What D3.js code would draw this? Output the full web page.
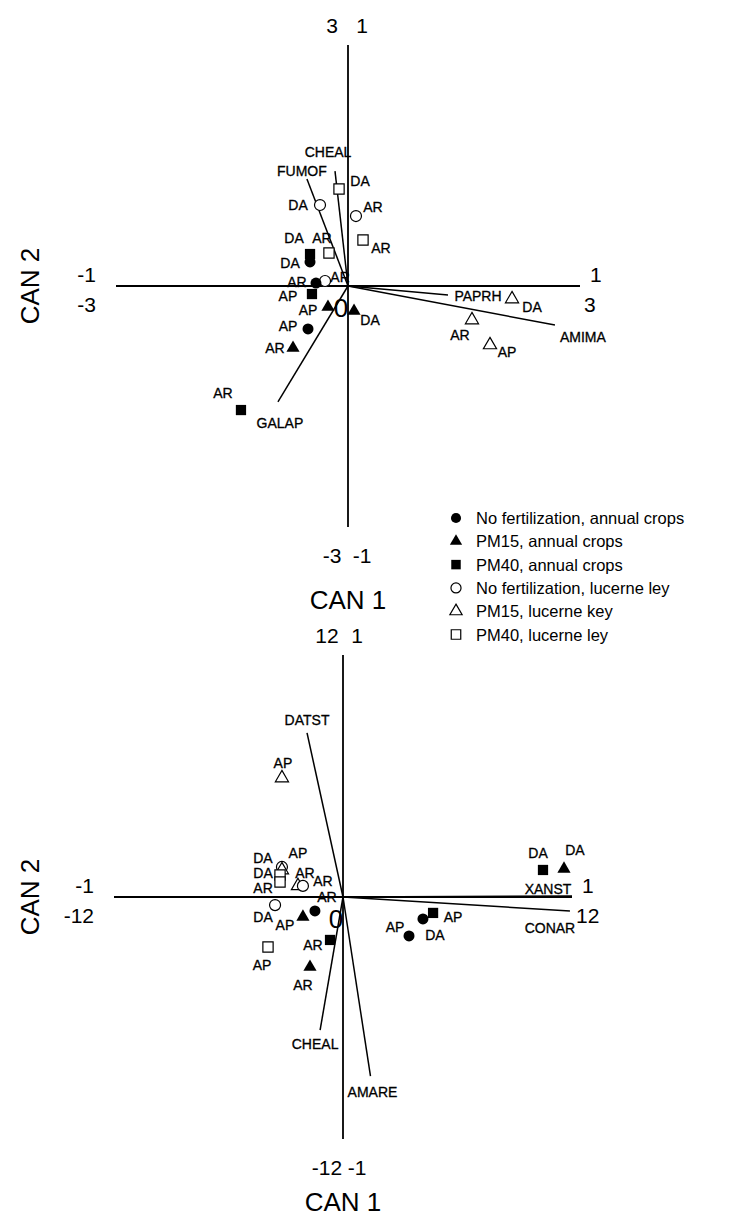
<!DOCTYPE html>
<html><head><meta charset="utf-8">
<script src="https://cdn.jsdelivr.net/npm/d3@7"></script>
<style>body{margin:0;background:#fff}svg{display:block}text{font-family:"Liberation Sans",Arial,sans-serif;fill:#000}</style>
</head><body>
<script>
// ---------- DATA ----------
const groupNames = ["No fertilization, annual crops","PM15, annual crops","PM40, annual crops",
  "No fertilization, lucerne ley","PM15, lucerne key","PM40, lucerne ley"];

// Top plot: canonical scores (CAN1 x, CAN2 y), group index, label
const topX =     [-0.116,-0.362,0.103,0.194,-0.246,-0.491,-0.491,-0.297,-0.414,-0.466,-0.259,0.078,-0.517,-0.711,-1.384,2.121,1.603,1.836];
const topY =     [1.207,1.008,0.871,0.573,0.411,0.398,0.299,0.062,0.037,-0.100,-0.262,-0.311,-0.535,-0.772,-1.544,-0.162,-0.423,-0.734];
const topGroup = [5,3,3,5,5,2,0,3,0,2,1,1,0,1,2,4,4,4];
const topLabel = ["DA","DA","AR","AR","AR","DA","DA","AR","AR","AP","AP","DA","AP","AR","AR","DA","AR","AP"];
// Top plot species vectors
const topVecName = ["CHEAL","FUMOF","PAPRH","AMIMA","GALAP"];
const topVecX = [-0.056,-0.177,0.431,0.892,-0.302];
const topVecY = [0.477,0.444,-0.037,-0.162,-0.481];
const topTickTop = ["3","1"], topTickLeft = ["-1","-3"], topTickRight = ["1","3"], topTickBottom = ["-3","-1"];
const topScoreMax = 3, topVecMax = 1;

// Bottom plot
const botX =     [-3.20,-3.20,-3.20,-3.30,-3.30,-2.36,-2.10,-3.56,-1.47,-2.10,-0.68,-1.73,-3.93,3.46,4.19,4.72,10.48,11.58];
const botY =     [5.90,1.49,1.34,1.09,0.74,0.55,0.55,-0.40,-0.69,-0.99,-2.13,-3.47,-2.48,-1.93,-1.09,-0.79,1.34,1.39];
const botGroup = [4,3,4,5,5,4,3,3,0,1,2,1,5,0,0,2,2,1];
const botLabel = ["AP","AP","DA","DA","AR","AR","AR","DA","AR","AP","AR","AR","AP","AP","DA","AP","DA","DA"];
const botVecName = ["DATST","XANST","CONAR","CHEAL","AMARE"];
const botVecX = [-0.157,1.0,0.991,-0.10,0.12];
const botVecY = [0.678,0.004,-0.058,-0.55,-0.74];
const botTickTop = ["12","1"], botTickLeft = ["-1","-12"], botTickRight = ["1","12"], botTickBottom = ["-12","-1"];
const botScoreMax = 12, botVecMax = 1;

// ---------- LAYOUT (label offsets in px, not data) ----------
const topLabelOff = [[21,-8],[-22,0],[17,-9],[18,8],[-7,-15],[-16,-16],[-20,1],[15,-4],[-19,-1],[-24,2],[-20,3],[16,9],[-20,-3],[-18,0],[-18,-17],[20,8],[-12,15],[17,7]];
const topVecLabelOff = [[-7,-19],[-5,-8],[30,1],[28,12],[2,21]];
const botLabelOff = [[1,-15],[16,-14],[-19,-12],[-17,-2],[-17,6],[7,-13],[20,-5],[-12,12],[12,-14],[-18,8],[-17,5],[-7,18],[-6,18],[-14,-9],[12,16],[20,4],[-5,-17],[11,-19]];
const botVecLabelOff = [[0,-13],[-24,-7],[-20,17],[-5,14],[2,16]];

const W = 747, H = 1224;
const svg = d3.select("body").append("svg").attr("width", W).attr("height", H);
svg.append("rect").attr("width", W).attr("height", H).attr("fill", "#fff");

const symTypes = [d3.symbolCircle, d3.symbolTriangle, d3.symbolSquare, d3.symbolCircle, d3.symbolTriangle, d3.symbolSquare];
const symSizes = [95, 75, 105, 95, 75, 105];
function sym(g, size) { return d3.symbol().type(symTypes[g]).size(size || symSizes[g])(); }
function styleSym(sel, g) {
  if (g < 3) sel.attr("fill", "#000").attr("stroke", "none");
  else sel.attr("fill", "#fff").attr("stroke", "#000").attr("stroke-width", 1.2);
}

function drawPlot(cfg) {
  const g = svg.append("g");
  const xs = d3.scaleLinear().domain([-cfg.sMax, cfg.sMax]).range([cfg.x0, cfg.x1]);
  const ys = d3.scaleLinear().domain([-cfg.sMax, cfg.sMax]).range([cfg.y1, cfg.y0]);
  const xv = d3.scaleLinear().domain([-cfg.vMax, cfg.vMax]).range([cfg.x0, cfg.x1]);
  const yv = d3.scaleLinear().domain([-cfg.vMax, cfg.vMax]).range([cfg.y1, cfg.y0]);
  const ox = xs(0), oy = ys(0);
  // axes
  g.append("line").attr("x1", xs(-cfg.sMax)).attr("x2", xs(cfg.sMax)).attr("y1", oy).attr("y2", oy)
    .attr("stroke", "#000").attr("stroke-width", 1.8);
  g.append("line").attr("x1", ox).attr("x2", ox).attr("y1", ys(cfg.sMax)).attr("y2", ys(-cfg.sMax))
    .attr("stroke", "#000").attr("stroke-width", 1.8);
  // vectors
  cfg.vName.forEach((n, i) => {
    const ex = xv(cfg.vX[i]), ey = yv(cfg.vY[i]);
    g.append("line").attr("x1", ox).attr("y1", oy).attr("x2", ex).attr("y2", ey)
      .attr("stroke", "#000").attr("stroke-width", 1.5);
    g.append("text").attr("x", ex + cfg.vOff[i][0]).attr("y", ey + cfg.vOff[i][1])
      .attr("text-anchor", "middle").attr("dominant-baseline", "central")
      .attr("font-size", 14).attr("stroke", "#000").attr("stroke-width", 0.3).text(n);
  });
  // points
  cfg.px.forEach((v, i) => {
    const cx = xs(v), cy = ys(cfg.py[i]);
    styleSym(g.append("path").attr("d", sym(cfg.pg[i])).attr("transform", `translate(${cx},${cy})`), cfg.pg[i]);
    g.append("text").attr("x", cx + cfg.pOff[i][0]).attr("y", cy + cfg.pOff[i][1])
      .attr("text-anchor", "middle").attr("dominant-baseline", "central")
      .attr("font-size", 14).attr("stroke", "#000").attr("stroke-width", 0.3).text(cfg.pl[i]);
  });
  // origin label
  g.append("text").attr("x", ox - 7).attr("y", oy + 22).attr("text-anchor", "middle")
    .attr("dominant-baseline", "central").attr("font-size", 26).text("0");
  // tick labels
  const fs = 21;
  function tick(x, y, anchor, t) {
    g.append("text").attr("x", x).attr("y", y).attr("text-anchor", anchor).attr("dominant-baseline", "central")
      .attr("font-size", fs).text(t);
  }
  tick(ox - 16, cfg.y0 - 20, "middle", cfg.tTop[0]);
  tick(ox + 14, cfg.y0 - 20, "middle", cfg.tTop[1]);
  tick(ox - 16, cfg.y1 + 28, "middle", cfg.tBot[0]);
  tick(ox + 14, cfg.y1 + 28, "middle", cfg.tBot[1]);
  tick(cfg.x0 - 20, oy - 12, "end", cfg.tLeft[0]);
  tick(cfg.x0 - 20, oy + 18, "end", cfg.tLeft[1]);
  tick(cfg.x1 + 10, oy - 12, "start", cfg.tRight[0]);
  tick(cfg.x1 + 4, oy + 18, "start", cfg.tRight[1]);
  // axis titles
  g.append("text").attr("x", ox).attr("y", cfg.titleY).attr("text-anchor", "middle").attr("dominant-baseline", "central").attr("font-size", 26).text("CAN 1");
  g.append("text").attr("transform", `translate(30,${oy}) rotate(-90)`).attr("text-anchor", "middle").attr("dominant-baseline", "central").attr("font-size", 26).text("CAN 2");
}

drawPlot({ x0: 116, x1: 580, y0: 45, y1: 527, sMax: topScoreMax, vMax: topVecMax, titleY: 600,
  px: topX, py: topY, pg: topGroup, pl: topLabel, pOff: topLabelOff,
  vName: topVecName, vX: topVecX, vY: topVecY, vOff: topVecLabelOff,
  tTop: topTickTop, tBot: topTickBottom, tLeft: topTickLeft, tRight: topTickRight });

drawPlot({ x0: 114, x1: 572, y0: 655, y1: 1139, sMax: botScoreMax, vMax: botVecMax, titleY: 1202,
  px: botX, py: botY, pg: botGroup, pl: botLabel, pOff: botLabelOff,
  vName: botVecName, vX: botVecX, vY: botVecY, vOff: botVecLabelOff,
  tTop: botTickTop, tBot: botTickBottom, tLeft: botTickLeft, tRight: botTickRight });

// legend
const leg = svg.append("g");
groupNames.forEach((n, i) => {
  const y = 518 + i * 23.3;
  styleSym(leg.append("path").attr("d", sym(i, [80, 65, 90, 80, 65, 90][i])).attr("transform", `translate(456,${y})`), i);
  leg.append("text").attr("x", 476).attr("y", y).attr("dominant-baseline", "central").attr("font-size", 16.5).text(n);
});
</script>
</body></html>
